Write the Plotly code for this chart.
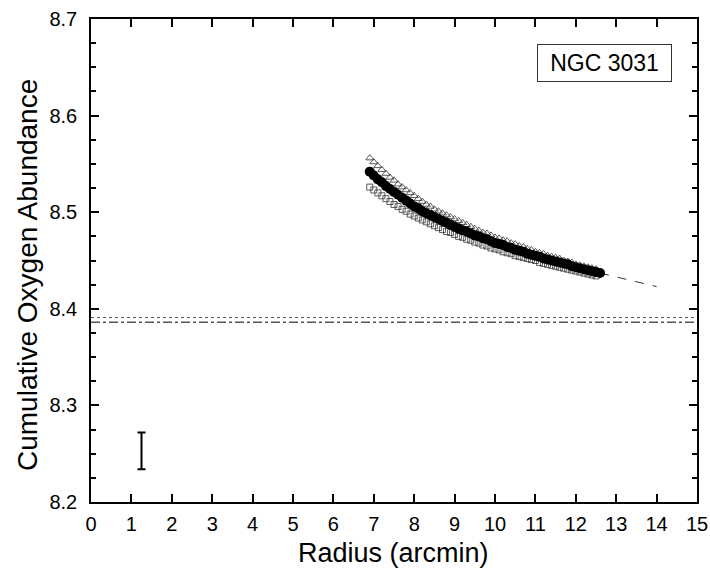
import plotly.graph_objects as go

# Radius grids (arcmin)
r_circ = [6.9, 7.0, 7.1, 7.2, 7.3, 7.4, 7.5, 7.6, 7.7, 7.8, 7.9,
          8.0, 8.1, 8.2, 8.3, 8.4, 8.5, 8.6, 8.7, 8.8, 8.9,
          9.0, 9.1, 9.2, 9.3, 9.4, 9.5, 9.6, 9.7, 9.8, 9.9,
          10.0, 10.1, 10.2, 10.3, 10.4, 10.5, 10.6, 10.7, 10.8, 10.9,
          11.0, 11.1, 11.2, 11.3, 11.4, 11.5, 11.6, 11.7, 11.8, 11.9,
          12.0, 12.1, 12.2, 12.3, 12.4, 12.5, 12.6]
oh_circ = [8.542, 8.538, 8.534, 8.531, 8.527, 8.524, 8.521, 8.518, 8.515, 8.512, 8.509,
           8.506, 8.504, 8.501, 8.499, 8.497, 8.495, 8.493, 8.491, 8.489, 8.487,
           8.485, 8.483, 8.481, 8.480, 8.478, 8.476, 8.475, 8.473, 8.472, 8.470,
           8.468, 8.467, 8.466, 8.464, 8.463, 8.461, 8.460, 8.459, 8.457, 8.456,
           8.455, 8.454, 8.452, 8.451, 8.450, 8.449, 8.448, 8.447, 8.446, 8.444,
           8.443, 8.442, 8.441, 8.440, 8.439, 8.438, 8.437]

r_open = [6.9, 7.0, 7.1, 7.2, 7.3, 7.4, 7.5, 7.6, 7.7, 7.8, 7.9,
          8.0, 8.1, 8.2, 8.3, 8.4, 8.5, 8.6, 8.7, 8.8, 8.9,
          9.0, 9.1, 9.2, 9.3, 9.4, 9.5, 9.6, 9.7, 9.8, 9.9,
          10.0, 10.1, 10.2, 10.3, 10.4, 10.5, 10.6, 10.7, 10.8, 10.9,
          11.0, 11.1, 11.2, 11.3, 11.4, 11.5, 11.6, 11.7, 11.8, 11.9,
          12.0, 12.1, 12.2, 12.3, 12.4, 12.5]
oh_tri = [8.556, 8.552, 8.548, 8.544, 8.540, 8.536, 8.533, 8.529, 8.526, 8.523, 8.520,
          8.517, 8.514, 8.511, 8.508, 8.506, 8.503, 8.501, 8.499, 8.497, 8.495,
          8.493, 8.491, 8.489, 8.487, 8.485, 8.483, 8.481, 8.479, 8.478, 8.476,
          8.474, 8.473, 8.471, 8.470, 8.468, 8.467, 8.465, 8.464, 8.462, 8.461,
          8.459, 8.458, 8.457, 8.455, 8.454, 8.453, 8.452, 8.450, 8.449, 8.448,
          8.446, 8.445, 8.444, 8.443, 8.442, 8.441]
oh_sq = [8.526, 8.523, 8.520, 8.517, 8.514, 8.511, 8.508, 8.506, 8.503, 8.501, 8.498,
         8.496, 8.494, 8.492, 8.490, 8.488, 8.486, 8.484, 8.482, 8.480, 8.479,
         8.477, 8.475, 8.474, 8.472, 8.471, 8.469, 8.468, 8.466, 8.465, 8.463,
         8.462, 8.461, 8.459, 8.458, 8.457, 8.455, 8.454, 8.453, 8.452, 8.451,
         8.450, 8.448, 8.447, 8.446, 8.445, 8.444, 8.443, 8.442, 8.441, 8.440,
         8.439, 8.438, 8.437, 8.436, 8.435, 8.434]

r_ext = [12.6, 14.0]
oh_ext = [8.437, 8.423]

x_span = [0, 15]
oh_dotted = [8.391, 8.391]
oh_dashdot = [8.386, 8.386]

err_x = [1.25]
err_y = [8.253]
err_half = [0.019]

FONT = "Liberation Sans, Arial, sans-serif"
L, R, T, B, W, H = 91, 13, 19, 79, 710, 581
PW, PH = W - L - R, H - T - B

fig = go.Figure()

fig.add_trace(go.Scatter(x=x_span, y=oh_dotted, mode="lines",
                         line=dict(color="#555555", width=1, dash="dot"), showlegend=False))
fig.add_trace(go.Scatter(x=x_span, y=oh_dashdot, mode="lines",
                         line=dict(color="#555555", width=1.5, dash="dashdot"), showlegend=False))
fig.add_trace(go.Scatter(x=r_ext, y=oh_ext, mode="lines",
                         line=dict(color="#333333", width=1, dash="dash"), showlegend=False))
fig.add_trace(go.Scatter(x=r_open, y=oh_tri, mode="markers",
                         marker=dict(symbol="triangle-up-open", size=7, color="#333333",
                                     line=dict(width=0.8)), showlegend=False))
fig.add_trace(go.Scatter(x=r_open, y=oh_sq, mode="markers",
                         marker=dict(symbol="square-open", size=6, color="#333333",
                                     line=dict(width=0.8)), showlegend=False))
fig.add_trace(go.Scatter(x=r_circ, y=oh_circ, mode="markers",
                         marker=dict(symbol="circle", size=10, color="black"), showlegend=False))
fig.add_trace(go.Scatter(x=err_x, y=err_y, mode="markers",
                         marker=dict(size=0.1, color="rgba(0,0,0,0)"),
                         error_y=dict(type="data", array=err_half, color="black",
                                      thickness=2, width=4),
                         showlegend=False))

axis_common = dict(showline=True, linecolor="black", linewidth=1.5, mirror="allticks",
                   ticks="inside", tickcolor="black", tickwidth=1.5, ticklen=8,
                   showgrid=False, zeroline=False, automargin=False,
                   tickfont=dict(family=FONT, size=20, color="black"))

fig.update_xaxes(range=[0, 15], tickmode="linear", tick0=0, dtick=1,
                 ticklabelstandoff=3, **axis_common)
fig.update_yaxes(range=[8.2, 8.7], tickmode="linear", tick0=8.2, dtick=0.1, tickformat=".1f",
                 ticklabelstandoff=8,
                 minor=dict(ticks="inside", tickmode="linear", tick0=8.2, dtick=0.025,
                            ticklen=5, tickwidth=1.5, tickcolor="black"),
                 **axis_common)

# axis titles as positioned annotations
fig.add_annotation(x=(393 - L) / PW, y=(T + PH - 553) / PH, xref="paper", yref="paper",
                   text="Radius (arcmin)", showarrow=False, xanchor="center", yanchor="middle",
                   font=dict(family=FONT, size=27, color="black"))
fig.add_annotation(x=(27 - L) / PW, y=(T + PH - 275) / PH, xref="paper", yref="paper",
                   text="Cumulative Oxygen Abundance", showarrow=False, textangle=-90,
                   xanchor="center", yanchor="middle",
                   font=dict(family=FONT, size=28, color="black"))

fig.add_annotation(x=0.848, y=0.909, xref="paper", yref="paper", text="NGC 3031",
                   xanchor="center", yanchor="middle",
                   showarrow=False, bordercolor="#333333", borderwidth=1, borderpad=4,
                   width=125, height=28, bgcolor="white",
                   font=dict(family=FONT, size=23, color="black"))

fig.update_layout(width=W, height=H, plot_bgcolor="white", paper_bgcolor="white",
                  margin=dict(l=L, r=R, t=T, b=B))

fig.write_html("out.html")
